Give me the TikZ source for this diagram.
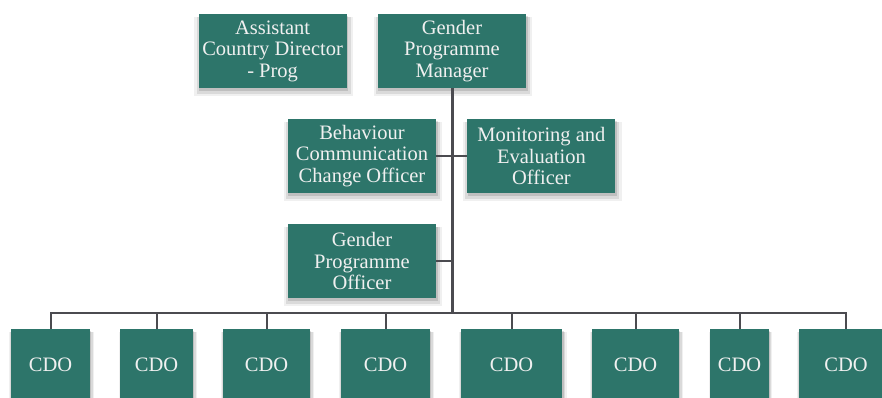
\documentclass[tikz,border=0pt]{standalone}
\usepackage{fontspec}
\setmainfont{Liberation Serif}
\usetikzlibrary{shadows,positioning}
\definecolor{boxgreen}{RGB}{45,117,106}
\definecolor{linegray}{RGB}{75,75,80}

\begin{document}
\begin{tikzpicture}[x=1pt, y=-1pt,
    softshadow/.style={
        general shadow={fill=black, opacity=0.06, shadow xshift=1pt, shadow yshift=-5pt, shadow scale=1.07},
        general shadow={fill=black, opacity=0.09, shadow xshift=1pt, shadow yshift=-4pt, shadow scale=1.04},
        general shadow={fill=black, opacity=0.12, shadow xshift=1pt, shadow yshift=-2.5pt, shadow scale=1.01}},
    orgbox/.style={rectangle, fill=boxgreen, text=white!94!black, align=center, inner sep=2pt,
        minimum width=148pt, minimum height=74pt, font=\fontsize{20.5}{21.5}\selectfont, softshadow},
    link/.style={draw=linegray, line width=2pt}]
    \useasboundingbox (0,0) rectangle (882,398);
    \clip (0,0) rectangle (882,398);

    % Manager level
    \node [orgbox] (gpm) at (452,51) {Gender\\Programme\\Manager};
    \node [orgbox, left=31pt of gpm] (acd) {Assistant\\Country Director\\- Prog};

    % Officers
    \node [orgbox] (bcc) at (362,156) {Behaviour\\Communication\\Change Officer};
    \node [orgbox, right=31pt of bcc] (mne) {Monitoring and\\Evaluation\\Officer};
    \node [orgbox, below=31pt of bcc] (gpo) {Gender\\Programme\\Officer};

    % CDOs
    \foreach \i/\cx/\w in {1/50.5/79, 2/156.5/73, 3/266.5/87, 4/385.5/89,
                           5/511.5/101, 6/635.5/87, 7/739.5/59, 8/846/94}
        \node [orgbox, minimum width=\w pt, minimum height=72pt] (cdo\i) at (\cx,365) {CDO};

    % Lines
    \coordinate (bus) at (452,313);
    \draw [link, line width=3pt] (gpm) -- (bus);
    \draw [link] (bcc) -- (bcc -| gpm);
    \draw [link] (mne) -- (mne -| gpm);
    \draw [link] (gpo) -- (gpo -| gpm);
    \draw [link] (cdo1) |- (bus) -| (cdo8);
    \foreach \i in {2,...,7}
        \draw [link] (cdo\i.north |- bus) -- (cdo\i);
\end{tikzpicture}
\end{document}
